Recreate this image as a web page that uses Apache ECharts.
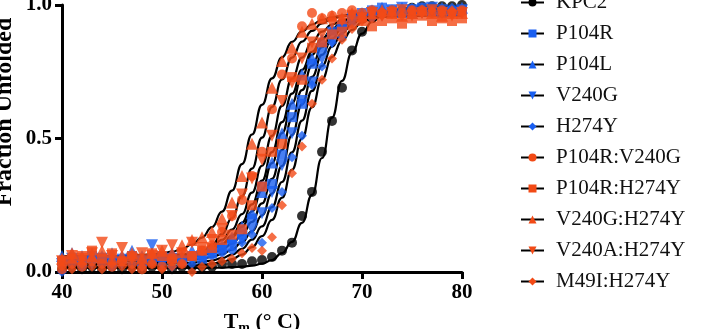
<!DOCTYPE html>
<html>
<head>
<meta charset="utf-8">
<script src="https://cdn.jsdelivr.net/npm/echarts@6/dist/echarts.min.js"></script>
<style>
  html, body { margin: 0; padding: 0; background: #fff; }
  #chart { width: 708px; height: 329px; }
</style>
</head>
<body>
<div id="chart"></div>
<script>
// temperatures (deg C), one reading per degree
const temps = [40, 41, 42, 43, 44, 45, 46, 47, 48, 49, 50, 51, 52, 53, 54, 55, 56, 57, 58, 59, 60,
  61, 62, 63, 64, 65, 66, 67, 68, 69, 70, 71, 72, 73, 74, 75, 76, 77, 78, 79, 80];
const xTicks = [40, 50, 60, 70, 80];

const names = ["KPC2", "P104R", "P104L", "V240G", "H274Y",
  "P104R:V240G", "P104R:H274Y", "V240G:H274Y", "V240A:H274Y", "M49I:H274Y"];

// measured fraction unfolded
const kpc2Pts = [0.01, 0.02, 0.01, 0.02, 0.01, 0.02, 0.01, 0.02, 0.01, 0.02, 0.02, 0.01, 0.02, 0.02, 0.02,
  0.02, 0.03, 0.03, 0.03, 0.04, 0.045, 0.056, 0.08, 0.11, 0.21, 0.30, 0.45, 0.566, 0.69, 0.83, 0.90,
  0.95, 0.97, 0.975, 0.98, 0.99, 0.995, 0.995, 0.995, 0.995, 1.0];
const p104rPts = [0.04, 0.05, 0.04, 0.06, 0.05, 0.04, 0.05, 0.06, 0.04, 0.05, 0.06, 0.05, 0.04, 0.06, 0.05,
  0.07, 0.09, 0.10, 0.14, 0.20, 0.32, 0.33, 0.44, 0.58, 0.63, 0.78, 0.84, 0.90, 0.92, 0.96, 0.97,
  0.98, 0.99, 0.98, 0.97, 0.98, 0.99, 0.98, 0.97, 0.98, 0.98];
const p104lPts = [0.06, 0.07, 0.06, 0.07, 0.06, 0.07, 0.06, 0.08, 0.06, 0.07, 0.06, 0.07, 0.06, 0.08, 0.07,
  0.09, 0.10, 0.13, 0.17, 0.22, 0.30, 0.41, 0.52, 0.63, 0.74, 0.80, 0.87, 0.91, 0.94, 0.96, 0.97,
  0.98, 0.99, 0.98, 0.99, 0.97, 0.99, 0.98, 0.99, 0.98, 0.99];
const v240gPts = [0.03, 0.05, 0.04, 0.03, 0.05, 0.04, 0.03, 0.05, 0.04, 0.10, 0.03, 0.05, 0.04, 0.05, 0.06,
  0.07, 0.08, 0.10, 0.12, 0.16, 0.22, 0.30, 0.40, 0.52, 0.64, 0.71, 0.80, 0.86, 0.90, 0.94, 0.95,
  0.97, 0.96, 0.98, 0.99, 0.98, 0.97, 0.99, 0.98, 0.97, 0.98];
const h274yPts = [0.00, 0.03, 0.02, 0.04, 0.03, 0.02, 0.04, 0.03, 0.02, 0.04, 0.03, 0.02, 0.04, 0.03, 0.05,
  0.06, 0.07, 0.08, 0.11, 0.14, 0.11, 0.24, 0.30, 0.43, 0.51, 0.70, 0.77, 0.86, 0.88, 0.93, 0.96,
  0.95, 0.97, 0.98, 0.97, 0.99, 0.98, 0.97, 0.98, 0.99, 0.98];
const p104rV240gPts = [0.01, 0.03, 0.02, 0.04, 0.03, 0.02, 0.04, 0.03, 0.01, 0.03, 0.02, 0.04, 0.03, 0.06, 0.08,
  0.10, 0.15, 0.21, 0.27, 0.36, 0.45, 0.61, 0.74, 0.80, 0.92, 0.97, 0.95, 0.96, 0.97, 0.98, 0.97,
  0.98, 0.97, 0.98, 0.97, 0.98, 0.98, 0.97, 0.98, 0.97, 0.98];
const p104rH274yPts = [0.04, 0.05, 0.06, 0.08, 0.05, 0.07, 0.04, 0.06, 0.05, 0.07, 0.06, 0.05, 0.07, 0.06, 0.08,
  0.09, 0.12, 0.14, 0.16, 0.25, 0.32, 0.45, 0.48, 0.73, 0.72, 0.84, 0.86, 0.89, 0.90, 0.93, 0.94,
  0.92, 0.94, 0.95, 0.93, 0.95, 0.96, 0.94, 0.95, 0.94, 0.95];
const v240gH274yPts = [0.05, 0.07, 0.05, 0.06, 0.08, 0.05, 0.06, 0.07, 0.05, 0.07, 0.08, 0.07, 0.10, 0.12, 0.13,
  0.15, 0.20, 0.26, 0.36, 0.48, 0.56, 0.69, 0.79, 0.84, 0.90, 0.93, 0.95, 0.96, 0.95, 0.97, 0.96,
  0.97, 0.98, 0.97, 0.96, 0.97, 0.98, 0.97, 0.96, 0.97, 0.97];
const v240aH274yPts = [0.04, 0.06, 0.05, 0.07, 0.11, 0.06, 0.09, 0.05, 0.07, 0.06, 0.08, 0.10, 0.07, 0.11, 0.09,
  0.12, 0.16, 0.21, 0.29, 0.35, 0.42, 0.51, 0.64, 0.71, 0.80, 0.86, 0.89, 0.93, 0.94, 0.96, 0.95,
  0.97, 0.96, 0.97, 0.98, 0.96, 0.97, 0.98, 0.97, 0.96, 0.97];
const m49iH274yPts = [0.02, 0.01, 0.03, 0.02, 0.01, 0.03, 0.02, 0.01, 0.02, 0.03, 0.01, 0.02, 0.03, 0.00, 0.02,
  0.03, 0.04, 0.05, 0.07, 0.09, 0.08, 0.13, 0.25, 0.37, 0.47, 0.63, 0.72, 0.80, 0.87, 0.91, 0.94,
  0.95, 0.96, 0.97, 0.96, 0.98, 0.97, 0.98, 0.97, 0.98, 0.97];

// fitted curves
const kpc2Fit = [0.015, 0.015, 0.015, 0.015, 0.015, 0.015, 0.015, 0.015, 0.015, 0.015, 0.015, 0.015, 0.015, 0.015, 0.015,
  0.016, 0.016, 0.018, 0.020, 0.024, 0.031, 0.045, 0.071, 0.113, 0.184, 0.289, 0.427, 0.578, 0.716, 0.822, 0.893,
  0.937, 0.963, 0.978, 0.986, 0.990, 0.992, 0.994, 0.995, 0.995, 0.995];
const p104rFit = [0.05, 0.05, 0.05, 0.05, 0.05, 0.05, 0.05, 0.05, 0.05, 0.05, 0.052, 0.053, 0.055, 0.058, 0.063,
  0.071, 0.084, 0.106, 0.138, 0.188, 0.257, 0.349, 0.457, 0.573, 0.681, 0.773, 0.842, 0.892, 0.924, 0.946, 0.959,
  0.967, 0.972, 0.975, 0.977, 0.978, 0.979, 0.979, 0.98, 0.98, 0.98];
const p104lFit = [0.06, 0.06, 0.06, 0.06, 0.06, 0.06, 0.06, 0.06, 0.06, 0.06, 0.062, 0.064, 0.066, 0.070, 0.077,
  0.087, 0.103, 0.130, 0.169, 0.227, 0.307, 0.408, 0.520, 0.632, 0.733, 0.813, 0.871, 0.910, 0.937, 0.953, 0.963,
  0.970, 0.974, 0.976, 0.978, 0.979, 0.979, 0.98, 0.98, 0.98, 0.98];
const v240gFit = [0.04, 0.04, 0.04, 0.04, 0.04, 0.04, 0.04, 0.04, 0.04, 0.04, 0.04, 0.042, 0.044, 0.046, 0.050,
  0.057, 0.067, 0.084, 0.112, 0.152, 0.212, 0.294, 0.397, 0.513, 0.628, 0.731, 0.813, 0.873, 0.913, 0.941, 0.958,
  0.968, 0.975, 0.978, 0.981, 0.983, 0.984, 0.984, 0.985, 0.985, 0.985];
const h274yFit = [0.03, 0.03, 0.03, 0.03, 0.03, 0.03, 0.03, 0.03, 0.03, 0.03, 0.03, 0.032, 0.033, 0.035, 0.038,
  0.043, 0.052, 0.065, 0.087, 0.121, 0.171, 0.243, 0.337, 0.448, 0.567, 0.678, 0.772, 0.844, 0.894, 0.928, 0.950,
  0.963, 0.972, 0.976, 0.980, 0.982, 0.983, 0.984, 0.985, 0.985, 0.985];
const p104rV240gFit = [0.03, 0.03, 0.03, 0.03, 0.03, 0.03, 0.03, 0.03, 0.032, 0.034, 0.036, 0.040, 0.047, 0.057, 0.074,
  0.102, 0.142, 0.202, 0.284, 0.387, 0.503, 0.618, 0.721, 0.803, 0.863, 0.903, 0.931, 0.948, 0.958, 0.965, 0.968,
  0.971, 0.973, 0.974, 0.974, 0.975, 0.975, 0.975, 0.975, 0.975, 0.975];
const p104rH274yFit = [0.05, 0.05, 0.05, 0.05, 0.05, 0.05, 0.05, 0.05, 0.05, 0.052, 0.053, 0.055, 0.058, 0.063, 0.071,
  0.084, 0.105, 0.136, 0.185, 0.253, 0.342, 0.449, 0.561, 0.668, 0.757, 0.825, 0.874, 0.905, 0.926, 0.939, 0.947,
  0.952, 0.955, 0.957, 0.958, 0.959, 0.96, 0.96, 0.96, 0.96, 0.96];
const v240gH274yFit = [0.06, 0.06, 0.06, 0.06, 0.06, 0.06, 0.06, 0.062, 0.064, 0.066, 0.070, 0.076, 0.086, 0.103, 0.129,
  0.168, 0.226, 0.305, 0.404, 0.515, 0.626, 0.725, 0.804, 0.862, 0.901, 0.927, 0.944, 0.954, 0.960, 0.964, 0.966,
  0.968, 0.969, 0.969, 0.97, 0.97, 0.97, 0.97, 0.97, 0.97, 0.97];
const v240aH274yFit = [0.05, 0.05, 0.05, 0.05, 0.05, 0.05, 0.05, 0.05, 0.05, 0.052, 0.054, 0.056, 0.060, 0.067, 0.077,
  0.093, 0.120, 0.159, 0.217, 0.297, 0.398, 0.510, 0.622, 0.723, 0.803, 0.861, 0.900, 0.927, 0.943, 0.953, 0.960,
  0.964, 0.966, 0.968, 0.969, 0.969, 0.97, 0.97, 0.97, 0.97, 0.97];
const m49iH274yFit = [0.02, 0.02, 0.02, 0.02, 0.02, 0.02, 0.02, 0.02, 0.02, 0.02, 0.02, 0.02, 0.022, 0.024, 0.026,
  0.031, 0.037, 0.048, 0.065, 0.093, 0.134, 0.195, 0.278, 0.383, 0.500, 0.617, 0.722, 0.805, 0.866, 0.907, 0.935,
  0.952, 0.963, 0.969, 0.973, 0.976, 0.977, 0.978, 0.979, 0.98, 0.98];

const points = [kpc2Pts, p104rPts, p104lPts, v240gPts, h274yPts,
  p104rV240gPts, p104rH274yPts, v240gH274yPts, v240aH274yPts, m49iH274yPts];
const fits = [kpc2Fit, p104rFit, p104lFit, v240gFit, h274yFit,
  p104rV240gFit, p104rH274yFit, v240gH274yFit, v240aH274yFit, m49iH274yFit];

const BLUE = "#1a5ff0";
const ORANGE = "#f24a16";
const colors = ["#000", BLUE, BLUE, BLUE, BLUE, ORANGE, ORANGE, ORANGE, ORANGE, ORANGE];
const symbols = ["circle", "rect", "triangle", "triangle", "diamond",
  "circle", "rect", "triangle", "triangle", "diamond"];
const rotates = [0, 0, 0, 180, 0, 0, 0, 0, 180, 0];
const sizes = [10, 10, 12, 12, 10, 10, 10, 12, 12, 10];

const serif = "'Liberation Serif', 'Times New Roman', serif";

const chart = echarts.init(document.getElementById("chart"));

const lineSeries = names.map((name, i) => ({
  name,
  type: "line",
  data: temps.map((t, j) => [t, fits[i][j]]),
  showSymbol: false,
  symbol: symbols[i],
  symbolRotate: rotates[i],
  smooth: true,
  smoothMonotone: "x",
  lineStyle: { color: "#000", width: 2.2 },
  itemStyle: { color: colors[i] },
  z: 2,
  silent: true,
}));

const scatterSeries = names.map((name, i) => ({
  name,
  type: "scatter",
  data: temps.map((t, j) => [t, points[i][j]]),
  symbol: symbols[i],
  symbolRotate: rotates[i],
  symbolSize: sizes[i],
  itemStyle: { color: colors[i] },
  clip: false,
  z: 3,
}));

chart.setOption({
  animation: false,
  backgroundColor: "#fff",
  grid: { left: 62, right: 246, top: 5, bottom: 57, outerBoundsMode: "none" },
  xAxis: {
    type: "value",
    min: 40,
    max: 80,
    interval: 10,
    name: "{b|T}{s|m}{b| (° C)}",
    nameLocation: "middle",
    nameGap: 37,
    nameTextStyle: {
      rich: {
        b: { fontFamily: serif, fontWeight: "bold", fontSize: 22, color: "#000" },
        s: { fontFamily: serif, fontWeight: "bold", fontSize: 14, color: "#000", padding: [12, 0, 0, 0] },
      },
    },
    axisLine: { lineStyle: { color: "#000", width: 3 } },
    axisTick: { length: 7, lineStyle: { color: "#000", width: 3 } },
    axisLabel: {
      margin: 10,
      fontFamily: serif,
      fontWeight: "bold",
      fontSize: 21,
      color: "#000",
      customValues: xTicks,
    },
    splitLine: { show: false },
  },
  yAxis: {
    type: "value",
    min: 0,
    max: 1,
    interval: 0.5,
    axisLine: { show: true, lineStyle: { color: "#000", width: 3 } },
    axisTick: { show: true, length: 7, lineStyle: { color: "#000", width: 3 } },
    axisLabel: {
      margin: 10,
      fontFamily: serif,
      fontWeight: "bold",
      fontSize: 21,
      color: "#000",
      formatter: (v) => v.toFixed(1),
    },
    splitLine: { show: false },
  },
  legend: {
    data: names,
    orient: "vertical",
    left: 520,
    top: -8,
    padding: 0,
    itemWidth: 23,
    itemHeight: 10,
    itemGap: 10,
    textStyle: {
      fontFamily: serif,
      fontSize: 21,
      lineHeight: 21,
      color: "#111",
      padding: [0, 0, 0, 7],
    },
  },
  graphic: [{
    type: "text",
    x: 5,
    y: 112,
    rotation: Math.PI / 2,
    style: {
      text: "Fraction Unfolded",
      fontFamily: serif,
      fontWeight: "bold",
      fontSize: 24,
      fill: "#000",
      align: "center",
      verticalAlign: "middle",
    },
  }],
  series: [...lineSeries, ...scatterSeries],
});
</script>
</body>
</html>
